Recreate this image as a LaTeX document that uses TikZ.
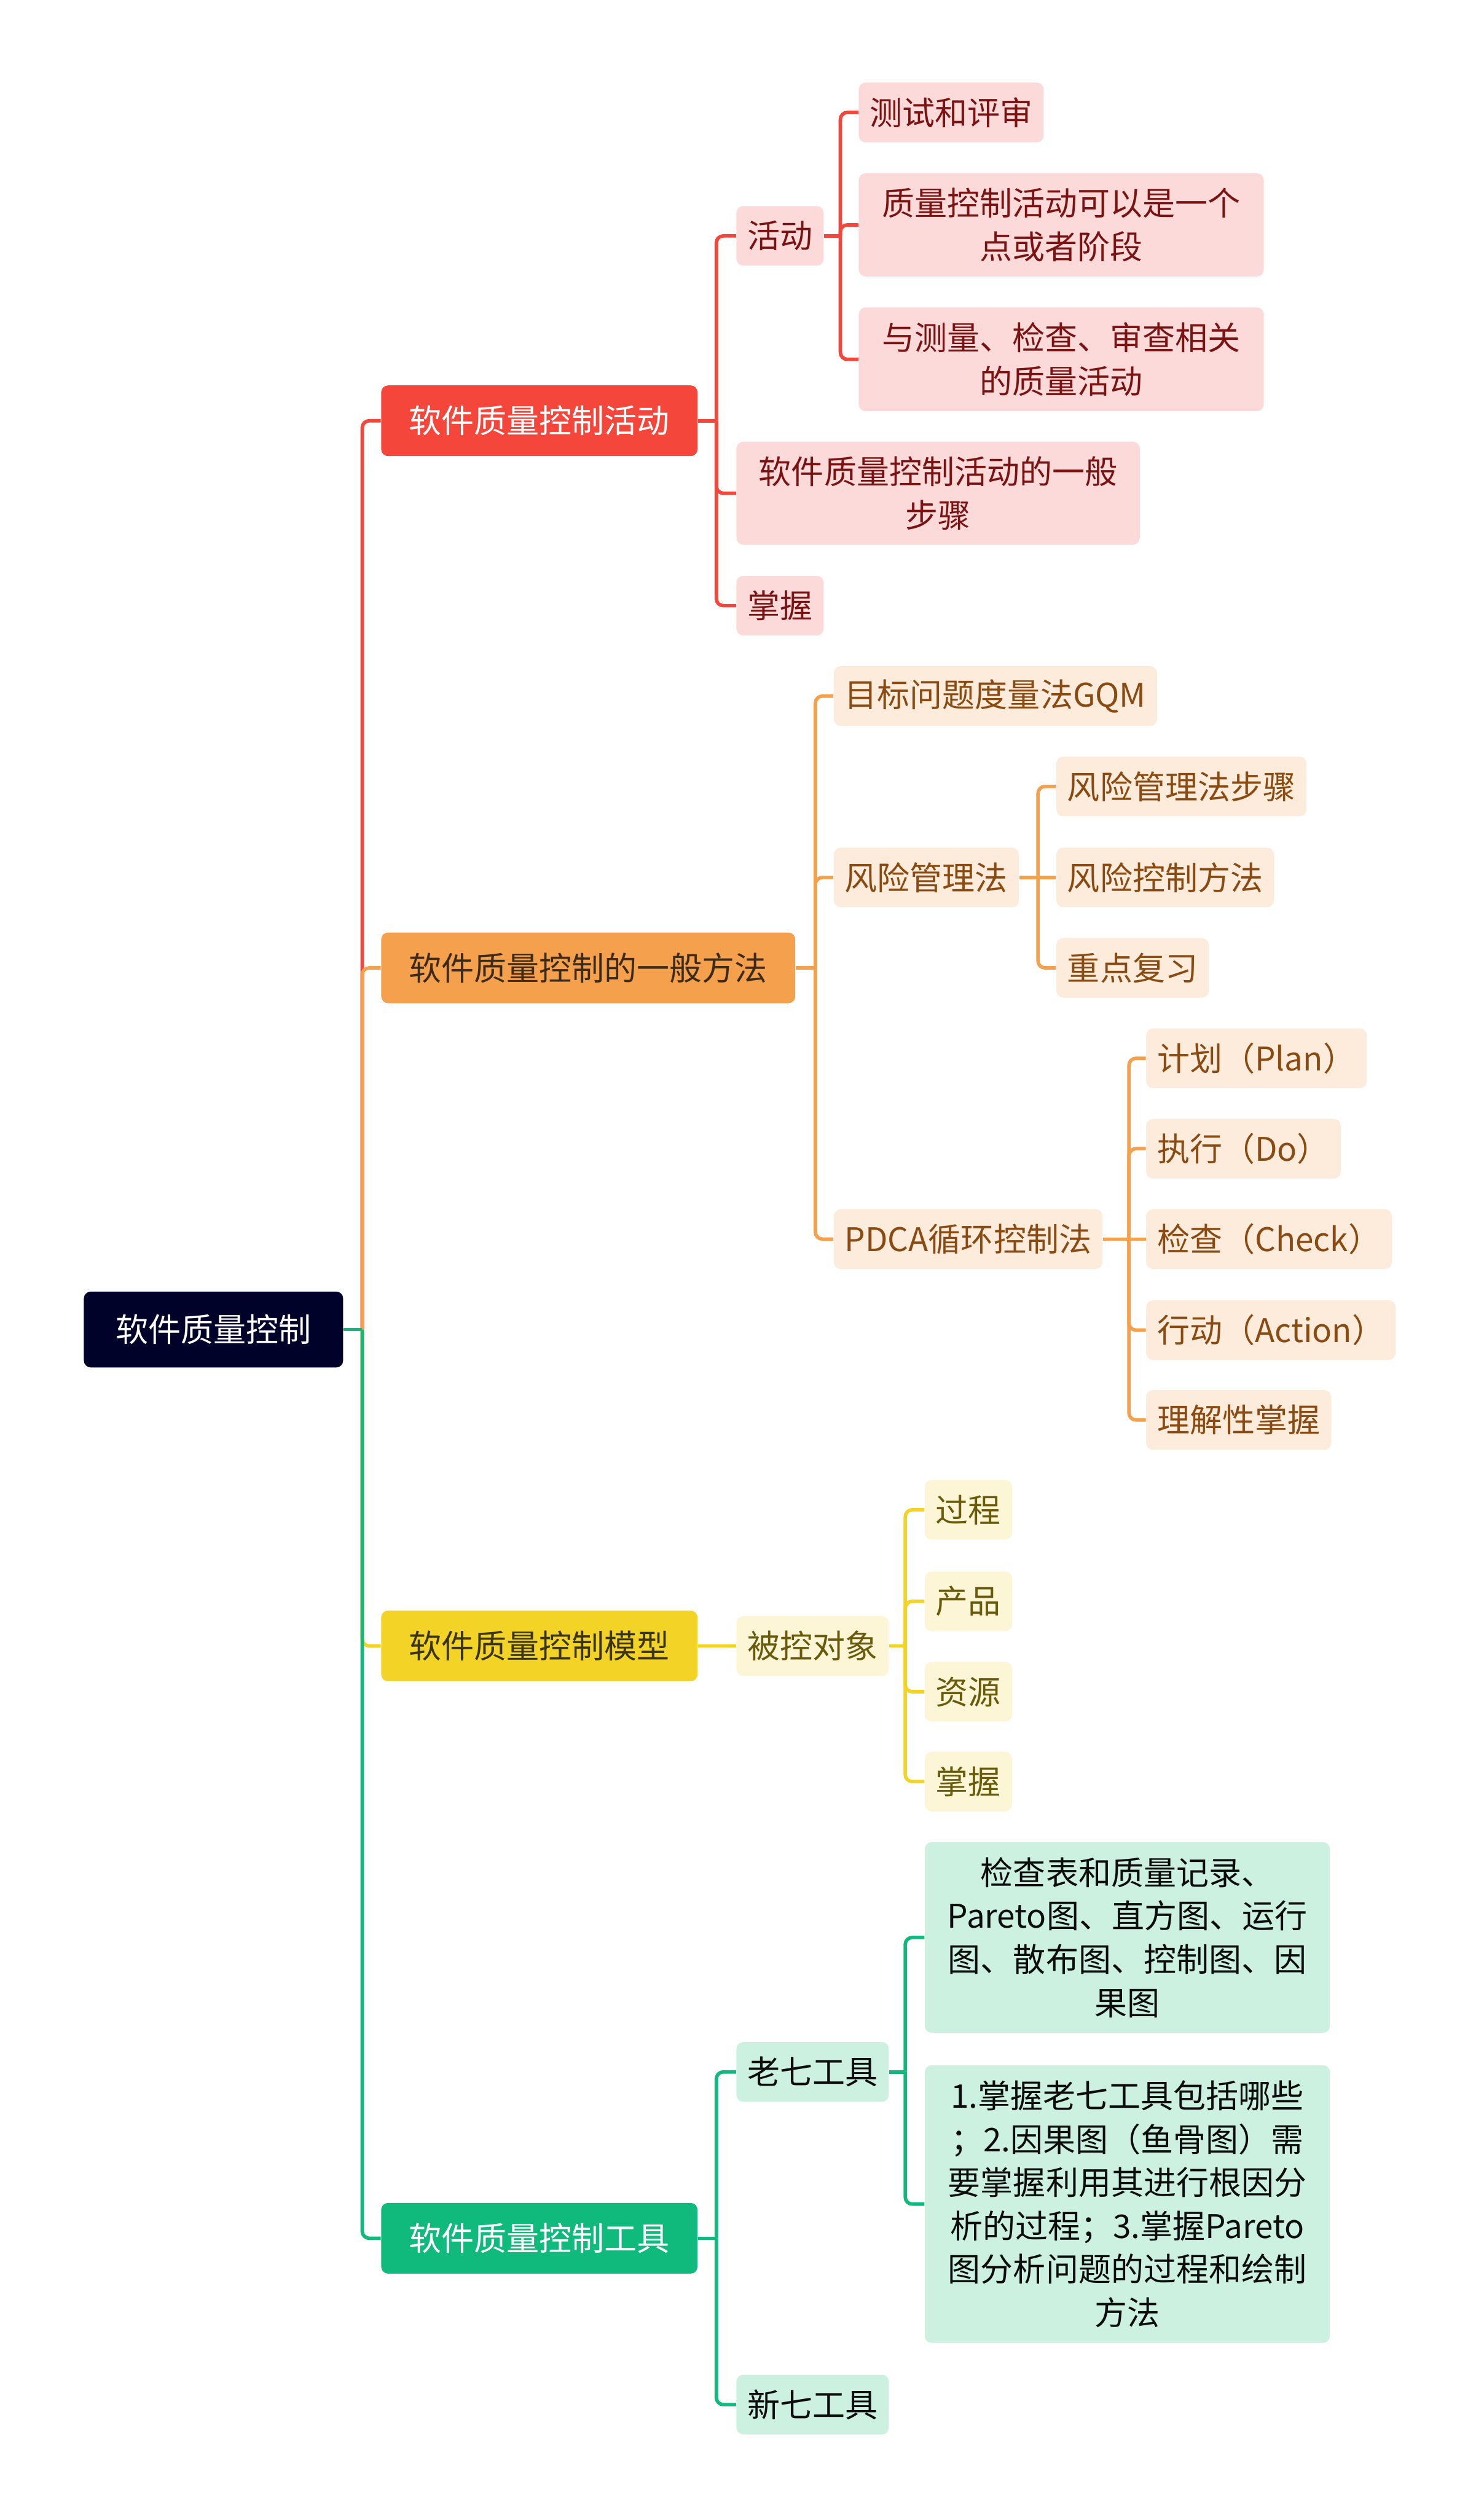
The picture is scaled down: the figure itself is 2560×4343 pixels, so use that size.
\documentclass[tikz,border=0pt]{standalone}
\usepackage{fontspec}
\setmainfont{Noto Sans CJK SC}
\definecolor{rootc}{HTML}{000229}
\definecolor{redc}{HTML}{F5463C}
\definecolor{redl}{HTML}{FDDADA}
\definecolor{redt}{HTML}{7B1313}
\definecolor{orangec}{HTML}{F4A04C}
\definecolor{orangel}{HTML}{FDEBDB}
\definecolor{oranget}{HTML}{8A4B12}
\definecolor{orangeT}{HTML}{3D2B1A}
\definecolor{yellowc}{HTML}{F2D326}
\definecolor{yellowl}{HTML}{FCF6D6}
\definecolor{yellowt}{HTML}{6A5B0C}
\definecolor{yellowT}{HTML}{3A3510}
\definecolor{greenc}{HTML}{10B97C}
\definecolor{greenl}{HTML}{CCF1E1}
\definecolor{greent}{HTML}{0D0D0D}

\tikzset{
  box/.style={rounded corners=1.2mm, anchor=west, align=center, inner xsep=1.9mm,
    inner ysep=0pt, font=\fontsize{16pt}{21.3pt}\selectfont, minimum height=10.3mm},
  rootbox/.style={box, fill=rootc, text=white, inner xsep=5.5mm, minimum height=13.1mm},
  topbox/.style={box, inner xsep=4.8mm, minimum height=12.2mm},
  widebox/.style={box, minimum width=69.9mm},
  link/.style={line width=0.6mm, rounded corners=1.2mm},
}

\begin{document}
\begin{tikzpicture}[x=0.1mm,y=-0.1mm]
\fill[white] (0,0) rectangle (2560,4343);
\useasboundingbox (0,0) rectangle (2560,4343);
% Root
\node[rootbox] (root) at (144,2294) {软件质量控制};
% Activities branch
\node[topbox, fill=redc, text=white] (act) at (657,726) {软件质量控制活动};
\node[box, fill=redl, text=redt] (hd) at (1270,407) {活动};
\node[widebox, fill=redl, text=redt, minimum width=69.6mm, minimum height=17.8mm] (bz) at (1270,851)
  {软件质量控制活动的一般\\步骤};
\node[box, fill=redl, text=redt] (zwa) at (1270,1045) {掌握};
\node[box, fill=redl, text=redt] (cs) at (1481,194) {测试和评审};
\node[widebox, fill=redl, text=redt, minimum height=17.8mm] (zl) at (1481,388)
  {质量控制活动可以是一个\\点或者阶段};
\node[widebox, fill=redl, text=redt, minimum height=17.9mm] (yc) at (1481,620)
  {与测量、检查、审查相关\\的质量活动};
% Methods branch
\node[topbox, fill=orangec, text=orangeT] (gm) at (657,1670) {软件质量控制的一般方法};
\node[box, fill=orangel, text=oranget] (gqm) at (1438,1201) {目标问题度量法GQM};
\node[box, fill=orangel, text=oranget] (fx) at (1438,1514) {风险管理法};
\node[box, fill=orangel, text=oranget] (pdca) at (1438,2138) {PDCA循环控制法};
\node[box, fill=orangel, text=oranget] (fxa) at (1822,1357) {风险管理法步骤};
\node[box, fill=orangel, text=oranget] (fxb) at (1822,1514) {风险控制方法};
\node[box, fill=orangel, text=oranget] (fxc) at (1822,1670) {重点复习};
\node[box, fill=orangel, text=oranget] (pa) at (1977,1826) {计划（Plan）};
\node[box, fill=orangel, text=oranget] (pb) at (1977,1982) {执行（Do）};
\node[box, fill=orangel, text=oranget] (pc) at (1977,2138) {检查（Check）};
\node[box, fill=orangel, text=oranget] (pd) at (1977,2295) {行动（Action）};
\node[box, fill=orangel, text=oranget] (pe) at (1977,2450) {理解性掌握};
% Model branch
\node[topbox, fill=yellowc, text=yellowT] (mx) at (657,2840) {软件质量控制模型};
\node[box, fill=yellowl, text=yellowt] (bk) at (1270,2840) {被控对象};
\node[box, fill=yellowl, text=yellowt] (ya) at (1595,2605) {过程};
\node[box, fill=yellowl, text=yellowt] (yb) at (1595,2763) {产品};
\node[box, fill=yellowl, text=yellowt] (yd) at (1595,2919) {资源};
\node[box, fill=yellowl, text=yellowt] (ye) at (1595,3074) {掌握};
% Tools branch
\node[topbox, fill=greenc, text=white] (gj) at (657,3862) {软件质量控制工具};
\node[box, fill=greenl, text=greent] (lq) at (1270,3575) {老七工具};
\node[box, fill=greenl, text=greent] (xq) at (1270,4149) {新七工具};
\node[widebox, fill=greenl, text=greent, minimum height=32.9mm] (ga) at (1595,3343)
  {检查表和质量记录、\\Pareto图、直方图、运行\\图、散布图、控制图、因\\果图};
\node[widebox, fill=greenl, text=greent, minimum height=47.9mm] (gb) at (1595,3803)
  {1.掌握老七工具包括哪些\\；2.因果图（鱼骨图）需\\要掌握利用其进行根因分\\析的过程；3.掌握Pareto\\图分析问题的过程和绘制\\方法};
% Trunk points
\coordinate (root-t) at (625,2294);
\coordinate (act-t) at (1236,726);
\coordinate (hd-t) at (1450,407);
\coordinate (gm-t) at (1407,1670);
\coordinate (fx-t) at (1791,1514);
\coordinate (pdca-t) at (1948,2138);
\coordinate (bk-t) at (1562,2840);
\coordinate (gj-t) at (1236,3862);
\coordinate (lq-t) at (1562,3575);
% Connectors
\draw[link, redc] (root-t) |- (act.west);
\draw[link, redc] (act.east) -- (act-t);
\foreach \c in {hd,bz,zwa} \draw[link, redc] (act-t) |- (\c.west);
\draw[link, redc] (hd.east) -- (hd-t);
\foreach \c in {cs,zl,yc} \draw[link, redc] (hd-t) |- (\c.west);
\draw[link, orangec] (root-t) |- (gm.west);
\draw[link, orangec] (gm.east) -- (gm-t);
\foreach \c in {gqm,fx,pdca} \draw[link, orangec] (gm-t) |- (\c.west);
\draw[link, orangec] (fx.east) -- (fxb.west);
\foreach \c in {fxa,fxc} \draw[link, orangec] (fx-t) |- (\c.west);
\draw[link, orangec] (pdca.east) -- (pc.west);
\foreach \c in {pa,pb,pd,pe} \draw[link, orangec] (pdca-t) |- (\c.west);
\draw[link, yellowc] (root-t) |- (mx.west);
\draw[link, yellowc] (mx.east) -- (bk.west);
\draw[link, yellowc] (bk.east) -- (bk-t);
\foreach \c in {ya,yb,yd,ye} \draw[link, yellowc] (bk-t) |- (\c.west);
\draw[link, greenc] (root-t) |- (gj.west);
\draw[link, greenc] (gj.east) -- (gj-t);
\foreach \c in {lq,xq} \draw[link, greenc] (gj-t) |- (\c.west);
\draw[link, greenc] (lq.east) -- (lq-t);
\foreach \c in {ga,gb} \draw[link, greenc] (lq-t) |- (\c.west);
\draw[link, greenc] (root.east) -- (root-t);
\end{tikzpicture}
\end{document}
